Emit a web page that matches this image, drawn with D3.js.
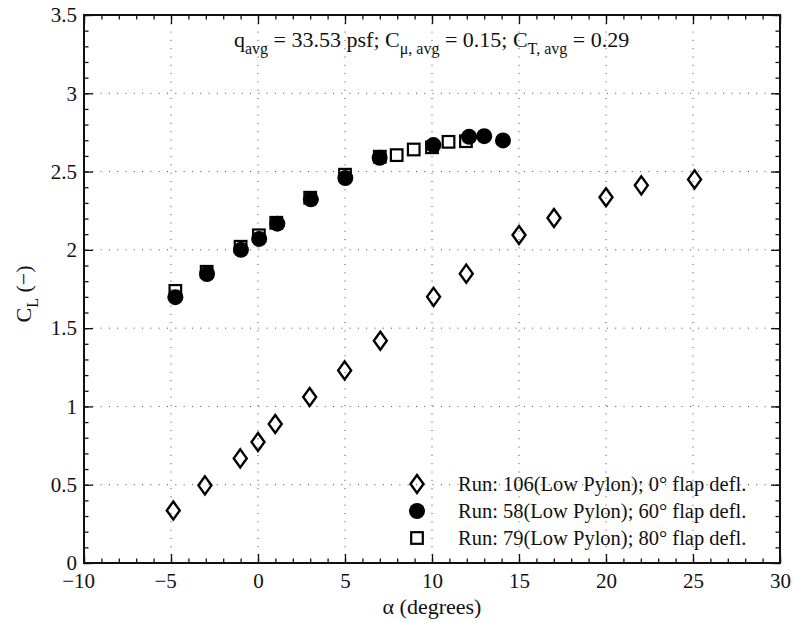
<!DOCTYPE html>
<html>
<head>
<meta charset="utf-8">
<script src="https://cdn.jsdelivr.net/npm/d3@7"></script>
<style>
    body { margin: 0; background: #fff; }
</style>
</head>
<body>
<div id="chart"></div>
<script>
// run 106, 0 deg flap
const alpha106 = [-4.87, -3.05, -1.02, 0.0, 0.99, 2.97, 4.98, 7.03, 10.09, 11.97, 15.0, 17.01, 20.0, 22.03, 25.09];
const cl106 = [0.335, 0.496, 0.668, 0.773, 0.888, 1.06, 1.23, 1.419, 1.70, 1.848, 2.095, 2.203, 2.336, 2.412, 2.45];
// run 58, 60 deg flap
const alpha58 = [-4.75, -2.93, -0.98, 0.07, 1.11, 3.04, 5.02, 6.99, 10.08, 12.13, 13.0, 14.08];
const cl58 = [1.698, 1.846, 2.0, 2.07, 2.167, 2.323, 2.459, 2.588, 2.669, 2.722, 2.726, 2.699];
// run 79, 80 deg flap
const alpha79 = [-4.75, -2.95, -1.0, 0.05, 1.05, 3.0, 5.0, 7.0, 7.97, 8.95, 10.0, 10.95, 11.95];
const cl79 = [1.738, 1.86, 2.02, 2.093, 2.173, 2.333, 2.48, 2.595, 2.605, 2.641, 2.655, 2.69, 2.694];

const legendLabels = [
    "Run: 106(Low Pylon); 0\u00b0 flap defl.",
    "Run: 58(Low Pylon); 60\u00b0 flap defl.",
    "Run: 79(Low Pylon); 80\u00b0 flap defl."
];
const xTicks = [-10, -5, 0, 5, 10, 15, 20, 25, 30];
const yTicks = [0, 0.5, 1, 1.5, 2, 2.5, 3, 3.5];

const FONT = '"Liberation Serif", "Times New Roman", Times, serif';

const W = 793, H = 622;
const margin = { top: 15, right: 13, bottom: 59, left: 84 };
const width = W - margin.left - margin.right;
const height = H - margin.top - margin.bottom;

const svg = d3.select('#chart').append('svg')
    .attr('width', W)
    .attr('height', H)
    .style('font-family', FONT);

const g = svg.append('g')
    .attr('transform', 'translate(' + margin.left + ',' + margin.top + ')');

const x = d3.scaleLinear().domain([-10, 30]).range([0, width]);
const y = d3.scaleLinear().domain([0, 3.5]).range([height, 0]);

// dotted grid
g.append('g').selectAll('line')
    .data(xTicks.slice(1, -1))
    .join('line')
    .attr('x1', d => x(d)).attr('x2', d => x(d))
    .attr('y1', 0).attr('y2', height)
    .attr('stroke', '#444').attr('stroke-width', 1)
    .attr('stroke-dasharray', '1,7.3');
g.append('g').selectAll('line')
    .data(yTicks.slice(1, -1))
    .join('line')
    .attr('y1', d => y(d)).attr('y2', d => y(d))
    .attr('x1', 0).attr('x2', width)
    .attr('stroke', '#444').attr('stroke-width', 1)
    .attr('stroke-dasharray', '1,7.3');

// axes, ticks inward on all sides
const xMinor = d3.range(-10, 30.01, 1);
const yMinor = d3.range(0, 3.501, 0.1);

function tickAxis(axisFn, scale, minor, major, size, pad, showLabels, fmt) {
    const a = axisFn(scale).tickValues(minor).tickSizeInner(-size).tickSizeOuter(0)
        .tickFormat(() => '');
    const b = axisFn(scale).tickValues(major).tickSizeInner(-size * 2).tickSizeOuter(0)
        .tickPadding(pad)
        .tickFormat(showLabels ? fmt : () => '');
    return [a, b];
}

const fmtX = d => String(Math.abs(d));
const fmtY = d => String(d);

const axBottom = tickAxis(d3.axisBottom, x, xMinor, xTicks, 4.5, 10, true, fmtX);
const axTop = tickAxis(d3.axisTop, x, xMinor, xTicks, 4.5, 10, false, fmtX);
const axLeft = tickAxis(d3.axisLeft, y, yMinor, yTicks, 4.5, 7, true, fmtY);
const axRight = tickAxis(d3.axisRight, y, yMinor, yTicks, 4.5, 10, false, fmtY);

[[axBottom, 'translate(0,' + height + ')'], [axTop, null], [axLeft, null], [axRight, 'translate(' + width + ',0)']]
    .forEach(([pair, tr], k) => {
        pair.forEach(ax => {
            const ga = g.append('g').call(ax);
            if (tr) ga.attr('transform', tr);
            ga.attr('font-family', null).attr('font-size', null);
            ga.select('.domain').remove();
            ga.selectAll('.tick line').attr('stroke', '#111').attr('stroke-width', 1.3);
            ga.selectAll('text').style('font-size', '21px').style('font-family', FONT).attr('fill', '#111');
            if (k === 0) {
                // keep the digits centred on the tick, minus sign hangs to the left
                ga.selectAll('.tick text').each(function (d) {
                    if (d >= 0 || !this.textContent) return;
                    const w = this.getComputedTextLength();
                    d3.select(this).attr('text-anchor', 'end').attr('x', w / 2)
                        .text('\u2212' + Math.abs(d));
                });
            }
        });
    });

g.append('rect')
    .attr('width', width).attr('height', height)
    .attr('fill', 'none').attr('stroke', '#111').attr('stroke-width', 2);

// markers
const diamond = (cx, cy) => `M${cx},${cy - 9} L${cx + 6.5},${cy} L${cx},${cy + 9} L${cx - 6.5},${cy} Z`;

g.append('g').selectAll('circle')
    .data(alpha58.map((a, i) => [a, cl58[i]]))
    .join('circle')
    .attr('cx', d => x(d[0])).attr('cy', d => y(d[1]))
    .attr('r', 8).attr('fill', '#000');

g.append('g').selectAll('rect')
    .data(alpha79.map((a, i) => [a, cl79[i]]))
    .join('rect')
    .attr('x', d => x(d[0]) - 5.8).attr('y', d => y(d[1]) - 5.8)
    .attr('width', 11.6).attr('height', 11.6)
    .attr('fill', 'none').attr('stroke', '#000').attr('stroke-width', 2.2);

g.append('g').selectAll('path')
    .data(alpha106.map((a, i) => [a, cl106[i]]))
    .join('path')
    .attr('d', d => diamond(x(d[0]), y(d[1])))
    .attr('fill', 'none').attr('stroke', '#000').attr('stroke-width', 2.4);

// legend
const leg = g.append('g').attr('transform', 'translate(' + (417 - margin.left) + ',' + (484 - margin.top) + ')');
legendLabels.forEach((lab, i) => {
    const row = leg.append('g').attr('transform', 'translate(0,' + (i * 27) + ')');
    if (i === 0) {
        row.append('path').attr('d', diamond(0, 0))
            .attr('fill', 'none').attr('stroke', '#000').attr('stroke-width', 2.4);
    } else if (i === 1) {
        row.append('circle').attr('r', 8).attr('fill', '#000');
    } else {
        row.append('rect').attr('x', -5.8).attr('y', -5.8).attr('width', 11.6).attr('height', 11.6)
            .attr('fill', 'none').attr('stroke', '#000').attr('stroke-width', 2.2);
    }
    row.append('text').attr('x', 41).attr('y', 6.5)
        .attr('fill', '#111')
        .style('font-size', '20.5px').text(lab);
});

// annotation at top
const t = g.append('text')
    .attr('x', 234 - margin.left).attr('y', 47 - margin.top)
    .attr('fill', '#111')
    .style('font-size', '22px');
t.append('tspan').text('q');
t.append('tspan').attr('dy', 6.5).style('font-size', '16px').text('avg');
t.append('tspan').attr('dy', -6.5).text(' = 33.53 psf; C');
t.append('tspan').attr('dy', 6.5).style('font-size', '16px').text('\u03bc, avg');
t.append('tspan').attr('dy', -6.5).text(' = 0.15; C');
t.append('tspan').attr('dy', 6.5).style('font-size', '16px').text('T, avg');
t.append('tspan').attr('dy', -6.5).text(' = 0.29');

// axis titles
svg.append('text')
    .attr('x', margin.left + width / 2).attr('y', 614)
    .attr('text-anchor', 'middle')
    .attr('fill', '#111')
    .style('font-size', '22px')
    .text('\u03b1 (degrees)');

const yl = svg.append('text')
    .attr('transform', 'translate(31,' + 294 + ') rotate(-90)')
    .attr('text-anchor', 'middle')
    .attr('fill', '#111')
    .style('font-size', '22px');
yl.append('tspan').text('C');
yl.append('tspan').attr('dy', 6.5).style('font-size', '16px').text('L');
yl.append('tspan').attr('dy', -6.5).text(' (\u2212)');
</script>
</body>
</html>
